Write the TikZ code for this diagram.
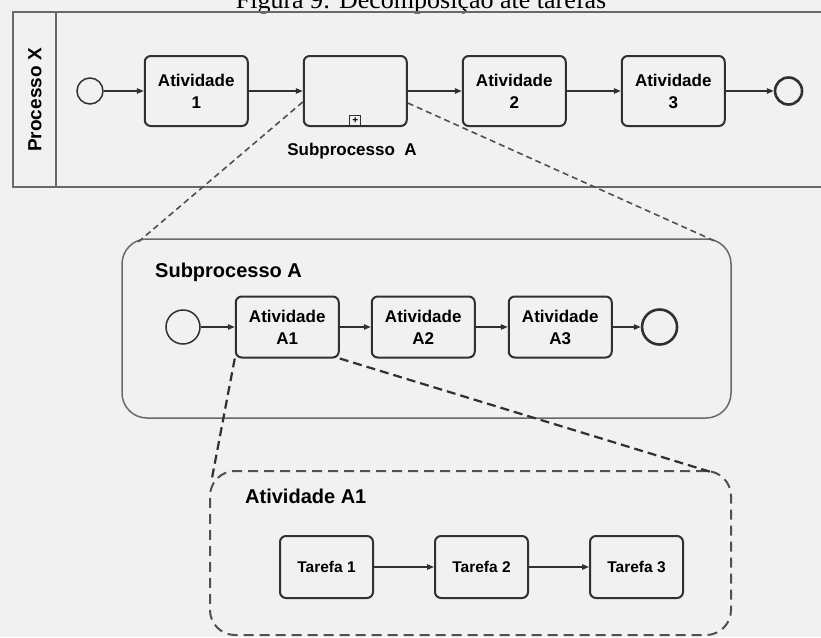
\documentclass[tikz,border=0pt]{standalone}
\usepackage{fontspec}
\setmainfont{Liberation Sans}
\newfontfamily\captionfont{Liberation Serif}
\usetikzlibrary{positioning, arrows.meta}
\definecolor{bggray}{RGB}{241,241,241}
\definecolor{linegray}{RGB}{48,48,48}
\definecolor{poolgray}{RGB}{105,105,105}
\definecolor{dashgray}{RGB}{80,80,80}

\begin{document}
\begin{tikzpicture}[x=1pt, y=-1pt, node distance=54pt]
                \tikzstyle{task} = [rectangle, rounded corners=6pt, draw=linegray, line width=2pt, minimum width=103pt, minimum height=70pt, inner sep=0pt, align=center, font=\fontsize{17}{22}\selectfont\bfseries]
                \tikzstyle{tarefa} = [task, minimum width=93pt, minimum height=62pt, font=\fontsize{15.5}{19}\selectfont\bfseries]
                \tikzstyle{startev} = [circle, draw=linegray, line width=1.5pt, minimum size=26pt, inner sep=0pt]
                \tikzstyle{endev} = [circle, draw=linegray, line width=2.6pt, minimum size=27pt, inner sep=0pt]
                \tikzstyle{flow} = [draw=linegray, line width=1.2pt, -{Triangle[length=7pt, width=5.5pt]}]
                \tikzstyle{zoomline} = [draw=dashgray, line width=1.6pt, dash pattern=on 6pt off 4pt]
                \tikzstyle{zoomthick} = [draw=linegray, line width=2.2pt, dash pattern=on 9pt off 5pt]
                \tikzstyle{lbl} = [inner sep=0pt, font=\fontsize{20}{24}\selectfont\bfseries]

                \useasboundingbox (0,0) rectangle (821,637);
                \clip (0,0) rectangle (821,637);
                \fill[bggray] (0,0) rectangle (821,637);

                % Caption (cut at the top)
                \node[anchor=base, inner sep=0pt, font=\captionfont\fontsize{26}{26}\selectfont] (caption) at (421,9) {Figura 9: Decomposição até tarefas};

                % Pool
                \draw[poolgray, line width=1.5pt] (13,12) rectangle (840,187);
                \draw[poolgray, line width=1.5pt] (56,12) -- (56,187);
                \node[rotate=90, inner sep=0pt, font=\fontsize{19}{22}\selectfont\bfseries] (laneX) at (35,100) {Processo X};

                % Top row
                \node[startev] (startX) at (90,91) {};
                \node[task] (act1) [right=40pt of startX] {Atividade\\1};
                \node[task] (subA) [right=of act1] {};
                \node[draw=linegray, line width=1.2pt, minimum size=11pt, inner sep=0pt, font=\fontsize{10}{10}\selectfont\bfseries] (plusA) [above=0pt of subA.south] {+};
                \node[anchor=base, inner sep=0pt, font=\fontsize{17}{20}\selectfont\bfseries] (subAlbl) at (352,155) {Subprocesso\ \ A};
                \node[task] (act2) [right=of subA] {Atividade\\2};
                \node[task] (act3) [right=of act2] {Atividade\\3};
                \node[endev] (endX) [right=48pt of act3] {};

                % Subprocesso A
                \node[draw=poolgray, line width=1.5pt, rounded corners=25pt, minimum width=609pt, minimum height=179pt] (subCont) at (426.5,328.5) {};
                \node[lbl, anchor=base west] (subContLbl) at (155,277) {Subprocesso A};
                \node[startev, minimum size=34pt] (startA) at (183,327) {};
                \node[task, minimum height=61pt] (actA1) [right=34pt of startA] {Atividade\\A1};
                \node[task, minimum height=61pt] (actA2) [right=31pt of actA1] {Atividade\\A2};
                \node[task, minimum height=61pt] (actA3) [right=32pt of actA2] {Atividade\\A3};
                \node[endev, minimum size=35pt] (endA) [right=28pt of actA3] {};

                % Atividade A1
                \node[draw=dashgray, line width=2pt, dash pattern=on 10pt off 6pt, rounded corners=25pt, minimum width=521pt, minimum height=164pt] (actCont) at (470.5,553) {};
                \node[lbl, anchor=base west] (actContLbl) at (245,503) {Atividade A1};
                \node[tarefa] (tar1) at (326.5,567) {Tarefa 1};
                \node[tarefa] (tar2) [right=60pt of tar1] {Tarefa 2};
                \node[tarefa] (tar3) [right=60pt of tar2] {Tarefa 3};

                % Ends of the zoom lines
                \coordinate (subContL) at (137,243);
                \coordinate (subContR) at (717,242);
                \coordinate (actContL) at (212,478);
                \coordinate (actContR) at (711,472);

                % Sequence flows
                \draw[flow] (startX) -- (act1);
                \draw[flow] (act1) -- (subA);
                \draw[flow] (subA) -- (act2);
                \draw[flow] (act2) -- (act3);
                \draw[flow] (act3) -- (endX);
                \draw[flow] (startA) -- (actA1);
                \draw[flow] (actA1) -- (actA2);
                \draw[flow] (actA2) -- (actA3);
                \draw[flow] (actA3) -- (endA);
                \draw[flow] (tar1) -- (tar2);
                \draw[flow] (tar2) -- (tar3);

                % Zoom lines
                \draw[zoomline] ([yshift=-11pt]subA.west) -- (subContL);
                \draw[zoomline] ([yshift=-12pt]subA.east) -- (subContR);
                \draw[zoomthick] (actA1.south west) -- (actContL);
                \draw[zoomthick] (actA1.south east) -- (actContR);
            \end{tikzpicture}
\end{document}
